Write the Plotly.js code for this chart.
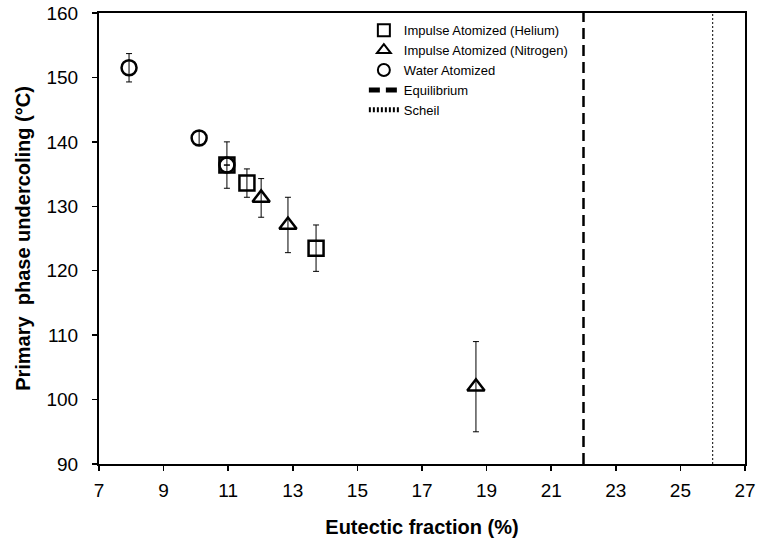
<!DOCTYPE html>
<html>
<head>
<meta charset="utf-8">
<script src="https://cdn.plot.ly/plotly-3.0.1.min.js"></script>
<style>html,body{margin:0;padding:0;background:#fff;}#chart{width:759px;height:546px;}</style>
</head>
<body>
<div id="chart"></div>
<script>
// Impulse Atomized (Helium)
const heliumX = [10.96, 11.58, 13.72];
const heliumY = [136.4, 133.6, 123.5];
const heliumErr = [3.6, 2.2, 3.6];
// Impulse Atomized (Nitrogen)
const nitrogenX = [12.02, 12.85, 18.67];
const nitrogenY = [131.3, 127.1, 102.0];
const nitrogenErr = [3.0, 4.3, 7.0];
// Water Atomized
const waterX = [7.93, 10.1, 10.96];
const waterY = [151.5, 140.6, 136.4];
const waterErr = [2.2, 1.0, 0];
// Reference lines
const equilibriumX = [22, 22];
const scheilX = [26, 26];
const lineY = [90, 160];
const xTicks = [7, 9, 11, 13, 15, 17, 19, 21, 23, 25, 27];
const yTicks = [90, 100, 110, 120, 130, 140, 150, 160];

const errStyle = {type: 'data', visible: true, color: '#000', thickness: 1, width: 3};
function pts(name, x, y, err, symbol) {
  return {
    type: 'scatter', mode: 'markers', name: name, x: x, y: y,
    error_y: Object.assign({array: err}, errStyle),
    marker: {symbol: symbol, size: 15, color: '#000', line: {color: '#000', width: 2.5}},
    cliponaxis: false
  };
}
const traces = [
  pts('Impulse Atomized (Helium)', heliumX, heliumY, heliumErr, 'square-open'),
  pts('Impulse Atomized (Nitrogen)', nitrogenX, nitrogenY, nitrogenErr, 'triangle-up-open'),
  pts('Water Atomized', waterX, waterY, waterErr, 'circle-open'),
  {type: 'scatter', mode: 'lines', name: 'Equilibrium', x: equilibriumX, y: lineY,
   line: {color: '#000', width: 2.5, dash: '11px,6px'}},
  {type: 'scatter', mode: 'lines', name: 'Scheil', x: scheilX, y: lineY,
   line: {color: '#000', width: 1, dash: '2px,2px'}}
];

const tickFont = {family: 'Liberation Sans Narrow, Arial Narrow, Liberation Sans, Arial, sans-serif', size: 19, color: '#000'};
const titleFont = {family: 'Liberation Sans, Arial, sans-serif', size: 20, color: '#000', weight: 'bold'};
const layout = {
  width: 759, height: 546,
  margin: {l: 99, r: 14, t: 13, b: 82},
  paper_bgcolor: '#fff', plot_bgcolor: '#fff',
  showlegend: true,
  legend: {x: 0.41, y: 0.995, xanchor: 'left', yanchor: 'top',
           font: {family: 'Liberation Sans, Arial, sans-serif', size: 13, color: '#000'},
           bgcolor: 'rgba(0,0,0,0)', itemsizing: 'constant', tracegroupgap: 0},
  xaxis: {range: [7, 27], tickvals: xTicks, ticktext: xTicks.map(String),
          showgrid: false, zeroline: false, showline: true, linecolor: '#000', linewidth: 2,
          mirror: true, ticks: 'outside', ticklen: 5, tickwidth: 1.5, tickcolor: '#000',
          tickfont: tickFont, ticklabelstandoff: 3,
          title: {text: 'Eutectic fraction (%)', font: titleFont, standoff: 20}},
  yaxis: {range: [90, 160], tickvals: yTicks, ticktext: yTicks.map(String),
          showgrid: false, zeroline: false, showline: true, linecolor: '#000', linewidth: 2,
          mirror: true, ticks: 'outside', ticklen: 5, tickwidth: 1.5, tickcolor: '#000',
          tickfont: tickFont, ticklabelstandoff: 10,
          title: {text: 'Primary  phase undercoling (°C)', font: titleFont, standoff: 10}}
};
Plotly.newPlot('chart', traces, layout, {displayModeBar: false, staticPlot: true});
</script>
</body>
</html>
